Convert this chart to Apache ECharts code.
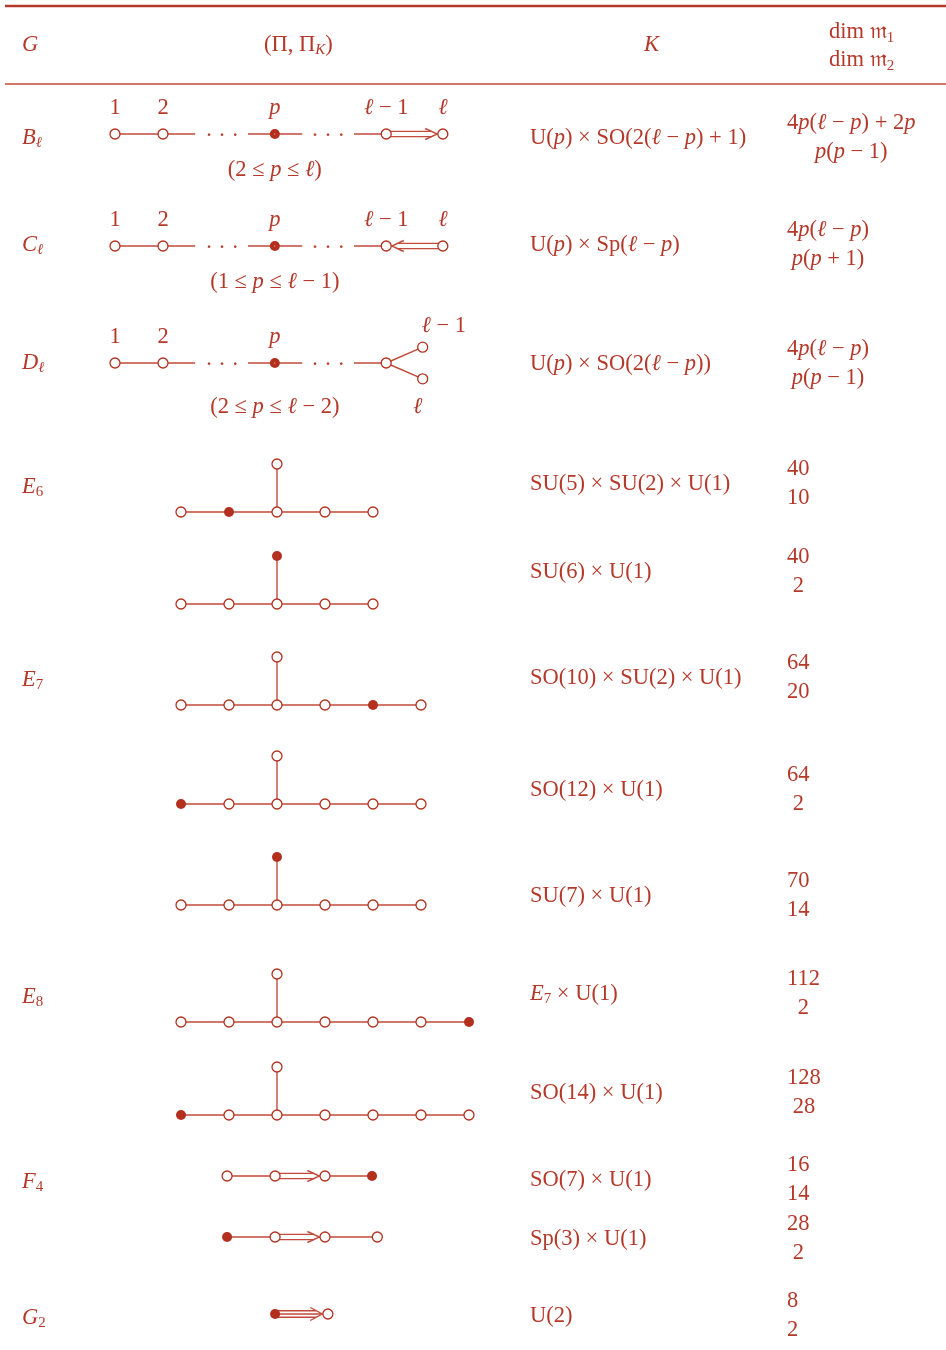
<!DOCTYPE html>
<html>
<head>
<meta charset="utf-8">
<title>Hermitian symmetric spaces</title>
<script src="https://cdn.jsdelivr.net/npm/echarts@6/dist/echarts.min.js"></script>
<style>
html, body { margin: 0; background: #fff; }
#main { width: 946px; height: 1350px; }
</style>
</head>
<body>
<div id="main"></div>
<script>
// ---- data (read off the table) ----
// *x* = italic, _x = subscript
var headers = ['*G*', '(Π, Π_K)', '*K*', 'dim 𝔪_1\ndim 𝔪_2'];
var groupBase = ['B', 'C', 'D', 'E', 'E', 'E', 'F', 'G'];
var groupSub = ['ℓ', 'ℓ', 'ℓ', '6', '7', '8', '4', '2'];
var kTexts = [
    'U(*p*) × SO(2(*ℓ* − *p*) + 1)', 'U(*p*) × Sp(*ℓ* − *p*)', 'U(*p*) × SO(2(*ℓ* − *p*))',
    'SU(5) × SU(2) × U(1)', 'SU(6) × U(1)',
    'SO(10) × SU(2) × U(1)', 'SO(12) × U(1)', 'SU(7) × U(1)',
    '*E*_7 × U(1)', 'SO(14) × U(1)',
    'SO(7) × U(1)', 'Sp(3) × U(1)', 'U(2)'
];
var dimM1 = ['4*p*(*ℓ* − *p*) + 2*p*', '4*p*(*ℓ* − *p*)', '4*p*(*ℓ* − *p*)', '40', '40', '64', '64', '70', '112', '128', '16', '28', '8'];
var dimM2 = ['*p*(*p* − 1)', '*p*(*p* + 1)', '*p*(*p* − 1)', '10', '2', '20', '2', '14', '2', '28', '14', '2', '2'];

// Dynkin diagrams: nodes [x, y, marked], edges [from, to, bond]
var diagramNodes = [
    [[0, 0, 0], [1, 0, 0], [3.33, 0, 1], [5.65, 0, 0], [6.83, 0, 0]],
    [[0, 0, 0], [1, 0, 0], [3.33, 0, 1], [5.65, 0, 0], [6.83, 0, 0]],
    [[0, 0, 0], [1, 0, 0], [3.33, 0, 1], [5.65, 0, 0], [6.41, 0.33, 0], [6.41, -0.33, 0]],
    [[0, 0, 0], [1, 0, 1], [2, 0, 0], [3, 0, 0], [4, 0, 0], [2, 1, 0]],
    [[0, 0, 0], [1, 0, 0], [2, 0, 0], [3, 0, 0], [4, 0, 0], [2, 1, 1]],
    [[0, 0, 0], [1, 0, 0], [2, 0, 0], [3, 0, 0], [4, 0, 1], [5, 0, 0], [2, 1, 0]],
    [[0, 0, 1], [1, 0, 0], [2, 0, 0], [3, 0, 0], [4, 0, 0], [5, 0, 0], [2, 1, 0]],
    [[0, 0, 0], [1, 0, 0], [2, 0, 0], [3, 0, 0], [4, 0, 0], [5, 0, 0], [2, 1, 1]],
    [[0, 0, 0], [1, 0, 0], [2, 0, 0], [3, 0, 0], [4, 0, 0], [5, 0, 0], [6, 0, 1], [2, 1, 0]],
    [[0, 0, 1], [1, 0, 0], [2, 0, 0], [3, 0, 0], [4, 0, 0], [5, 0, 0], [6, 0, 0], [2, 1, 0]],
    [[0.96, 0, 0], [1.96, 0, 0], [3, 0, 0], [3.98, 0, 1]],
    [[0.96, 0, 1], [1.96, 0, 0], [3, 0, 0], [4.09, 0, 0]],
    [[1.96, 0, 1], [3.06, 0, 0]]
];
var diagramEdges = [
    [[0, 1, 1], [3, 4, 2]],
    [[0, 1, 1], [4, 3, 2]],
    [[0, 1, 1], [3, 4, 1], [3, 5, 1]],
    [[0, 1, 1], [1, 2, 1], [2, 3, 1], [3, 4, 1], [2, 5, 1]],
    [[0, 1, 1], [1, 2, 1], [2, 3, 1], [3, 4, 1], [2, 5, 1]],
    [[0, 1, 1], [1, 2, 1], [2, 3, 1], [3, 4, 1], [4, 5, 1], [2, 6, 1]],
    [[0, 1, 1], [1, 2, 1], [2, 3, 1], [3, 4, 1], [4, 5, 1], [2, 6, 1]],
    [[0, 1, 1], [1, 2, 1], [2, 3, 1], [3, 4, 1], [4, 5, 1], [2, 6, 1]],
    [[0, 1, 1], [1, 2, 1], [2, 3, 1], [3, 4, 1], [4, 5, 1], [5, 6, 1], [2, 7, 1]],
    [[0, 1, 1], [1, 2, 1], [2, 3, 1], [3, 4, 1], [4, 5, 1], [5, 6, 1], [2, 7, 1]],
    [[0, 1, 1], [1, 2, 2], [2, 3, 1]],
    [[0, 1, 1], [1, 2, 2], [2, 3, 1]],
    [[0, 1, 3]]
];
// classical rows: broken chain pieces and the dots between them
var chainStubs = [[1, 1.67], [2.77, 3.9], [4.98, 5.65]];
var chainDots = [2.23, 4.44];
var nodeLabels = [
    ['1', '2', '*p*', '*ℓ* − 1', '*ℓ*'],
    ['1', '2', '*p*', '*ℓ* − 1', '*ℓ*'],
    ['1', '2', '*p*', '', '*ℓ* − 1', '*ℓ*']
];
var rangeNotes = ['(2 ≤ *p* ≤ *ℓ*)', '(1 ≤ *p* ≤ *ℓ* − 1)', '(2 ≤ *p* ≤ *ℓ* − 2)'];

// ---- layout ----
var rowMid = [134, 246, 363, 512, 604, 705, 804, 905, 1022, 1115, 1176, 1237, 1314];
var textY = [138, 245, 364, 484, 572, 678, 790, 896, 994, 1093, 1180, 1239, 1316];
var groupY = [138, 245, 363, 487, 680, 997, 1182, 1318];
var noteDrop = [36, 36, 44];

var FONT = 'Liberation Serif';
var FS = 22.5;
var RED = '#b5392a';
var NODE = '#b3301f';
var LINE = '#c04a3b';

function tokens(s) {
    var out = [], re = /\*([^*]+)\*|_(.)|([^*_]+)/g, m;
    while ((m = re.exec(s))) {
        if (m[1]) out.push({ t: m[1], s: 'i' });
        else if (m[2]) out.push({ t: m[2], s: /[0-9]/.test(m[2]) ? 'sub' : 'si' });
        else out.push({ t: m[3], s: '' });
    }
    return out;
}
function tex(s) {
    return tokens(s).map(function (k) {
        return k.s ? '{' + k.s + '|' + k.t + '}' : k.t;
    }).join('');
}
function richStyles(lh) {
    var sl = lh - 13.7;
    return {
        i: { fontStyle: 'italic', fontFamily: FONT, fontSize: FS, lineHeight: lh },
        sub: { fontFamily: FONT, fontSize: 15, lineHeight: sl, verticalAlign: 'bottom' },
        si: { fontStyle: 'italic', fontFamily: FONT, fontSize: 15, lineHeight: sl, verticalAlign: 'bottom' }
    };
}
var ctx = document.createElement('canvas').getContext('2d');
function widthOf(s) {
    var w = 0;
    tokens(s).forEach(function (k) {
        var size = (k.s === 'sub' || k.s === 'si') ? 15 : FS;
        ctx.font = ((k.s === 'i' || k.s === 'si') ? 'italic ' : '') + size + 'px "' + FONT + '"';
        w += ctx.measureText(k.t).width;
    });
    return w;
}
function textEl(x, y, s, align, lh) {
    return {
        type: 'text', x: x, y: y, silent: true,
        style: {
            text: tex(s), fill: RED, fontFamily: FONT, fontSize: FS, lineHeight: lh,
            align: align, verticalAlign: 'middle', rich: richStyles(lh)
        }
    };
}

function renderEdge(params, api) {
    var p1 = api.coord([api.value(0), api.value(1)]);
    var p2 = api.coord([api.value(2), api.value(3)]);
    var bond = api.value(4);
    var style = { stroke: LINE, lineWidth: 1.4, fill: null };
    if (bond === 1) {
        return { type: 'line', shape: { x1: p1[0], y1: p1[1], x2: p2[0], y2: p2[1] }, style: style };
    }
    var dx = p2[0] - p1[0], dy = p2[1] - p1[1], len = Math.sqrt(dx * dx + dy * dy);
    var ux = dx / len, uy = dy / len, nx = -uy, ny = ux;
    var tip = [p2[0] - ux * 5.6, p2[1] - uy * 5.6];
    var arm = bond === 2 ? 5.5 : 6.5, back = 12;
    var offs = bond === 2 ? [-2.6, 2.6] : [-3.3, 0, 3.3];
    var children = offs.map(function (o) {
        var cut = Math.max(Math.abs(o) * back / arm, 1.2);
        return {
            type: 'line',
            shape: {
                x1: p1[0] + nx * o, y1: p1[1] + ny * o,
                x2: tip[0] - ux * cut + nx * o, y2: tip[1] - uy * cut + ny * o
            },
            style: style
        };
    });
    children.push({
        type: 'polyline',
        shape: {
            points: [
                [tip[0] - ux * back + nx * arm, tip[1] - uy * back + ny * arm],
                tip,
                [tip[0] - ux * back - nx * arm, tip[1] - uy * back - ny * arm]
            ]
        },
        style: style
    });
    return { type: 'group', children: children };
}

function labelOffset(n) {
    if (n[1] > 0) return [21, -21];
    if (n[1] < 0) return [-5, 28];
    return [0, -26];
}
function labelOf(str, offset) {
    return {
        show: true, position: 'inside', offset: offset, opacity: 1,
        formatter: function () { return tex(str); },
        color: RED, textBorderWidth: 0, textBorderColor: 'transparent',
        fontFamily: FONT, fontSize: FS, lineHeight: 26, rich: richStyles(26)
    };
}

var grids = [], xAxes = [], yAxes = [], series = [];
rowMid.forEach(function (mid, r) {
    var classical = r < 3;
    grids.push({ left: classical ? 67 : 133, width: 480, top: mid - 72, height: 96 });
    xAxes.push({ gridIndex: r, type: 'value', min: -1, max: 9, show: false });
    yAxes.push({ gridIndex: r, type: 'value', min: -0.5, max: 1.5, show: false });

    var nodes = diagramNodes[r];
    var edges = diagramEdges[r].map(function (e) {
        var a = nodes[e[0]], b = nodes[e[1]];
        return [a[0], a[1], b[0], b[1], e[2]];
    });
    if (classical) {
        chainStubs.forEach(function (s) { edges.push([s[0], 0, s[1], 0, 1]); });
    }
    series.push({
        type: 'custom', xAxisIndex: r, yAxisIndex: r, renderItem: renderEdge,
        data: edges, clip: false, silent: true, z: 2
    });
    series.push({
        type: 'scatter', xAxisIndex: r, yAxisIndex: r, symbol: 'circle', symbolSize: 10,
        silent: true, z: 3, clip: false, itemStyle: { opacity: 1 },
        data: nodes.map(function (n, i) {
            var item = {
                value: [n[0], n[1]],
                itemStyle: { color: n[2] ? NODE : '#fff', borderColor: NODE, borderWidth: n[2] ? 0 : 1.3, opacity: 1 }
            };
            if (classical && nodeLabels[r][i]) item.label = labelOf(nodeLabels[r][i], labelOffset(n));
            return item;
        })
    });
    if (classical) {
        var marks = chainDots.map(function (x) {
            return { value: [x, 0], label: labelOf('· · ·', [0, 2]) };
        });
        marks.push({ value: [nodes[2][0], 0], label: labelOf(rangeNotes[r], [0, noteDrop[r]]) });
        series.push({
            type: 'scatter', xAxisIndex: r, yAxisIndex: r, symbolSize: 1, silent: true, z: 3, clip: false,
            itemStyle: { color: '#fff', opacity: 1 }, data: marks
        });
    }
});

var elements = [
    { type: 'line', shape: { x1: 5, y1: 6, x2: 946, y2: 6 }, style: { stroke: '#b3392b', lineWidth: 2.6 } },
    { type: 'line', shape: { x1: 5, y1: 84, x2: 946, y2: 84 }, style: { stroke: '#c0493a', lineWidth: 1.5 } },
    textEl(22, 45, headers[0], 'left', 26),
    textEl(264, 45, headers[1], 'left', 26),
    textEl(644, 45, headers[2], 'left', 26),
    textEl(829, 46, headers[3], 'left', 28)
];
groupBase.forEach(function (g, i) {
    elements.push(textEl(22, groupY[i], '*' + g + '*_' + groupSub[i], 'left', 26));
});
kTexts.forEach(function (k, i) {
    elements.push(textEl(530, textY[i], k, 'left', 26));
});
dimM1.forEach(function (d, i) {
    var w = Math.max(widthOf(d), widthOf(dimM2[i]));
    elements.push(textEl(787 + w / 2, textY[i], d + '\n' + dimM2[i], 'center', 29));
});

var chart = echarts.init(document.getElementById('main'));
chart.setOption({
    animation: false,
    backgroundColor: '#fff',
    grid: grids,
    xAxis: xAxes,
    yAxis: yAxes,
    series: series,
    graphic: { elements: elements }
});
</script>
</body>
</html>
